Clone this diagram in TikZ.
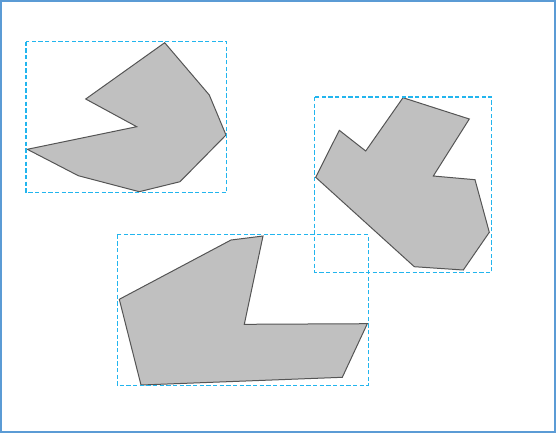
\documentclass[tikz,border=0pt]{standalone}
\definecolor{bboxc}{HTML}{22B5EE}
\definecolor{framec}{HTML}{5B9BD5}
\definecolor{polyfill}{HTML}{C0C0C0}
\definecolor{polyline}{HTML}{555555}
\begin{document}
\begin{tikzpicture}[x=0.75pt,y=-0.75pt,
  polyshape/.style={draw=polyline,fill=polyfill,line width=0.75pt,line join=miter},
  bboxline/.style={draw=bboxc,dash pattern=on 3.2pt off 1.8pt,line width=1.1pt},
  framebox/.style={draw=framec,line width=1.5pt}]
\useasboundingbox (0,0) rectangle (556,433);
\draw[framebox] (1,1) rectangle (555,432);
% polygon 1
\draw[polyshape] (164.7,42.7) -- (209.3,95) -- (226,135) -- (180,181.7) -- (139.3,191.7)
  -- (78.3,175.7) -- (27.3,149.3) -- (136.7,126.7) -- (85.7,99) -- cycle;
% polygon 2
\draw[polyshape] (403,97.7) -- (469.3,119) -- (433.3,176) -- (475,179.7) -- (489.3,232.3)
  -- (463.3,270) -- (414.3,266.7) -- (315.7,177.3) -- (339.3,130.3) -- (365.7,151) -- cycle;
% polygon 3
\draw[polyshape] (119.3,299.3) -- (231,240) -- (263,236) -- (244.3,324.3) -- (367.3,323.7)
  -- (342.3,377.3) -- (141,385) -- cycle;
% bounding boxes
\draw[bboxline] (26,41.7) rectangle (226.7,192.7);
\draw[bboxline] (314.7,97) rectangle (491.7,272.3);
\draw[bboxline] (117.3,234.7) rectangle (368.3,385.7);
\end{tikzpicture}
\end{document}
